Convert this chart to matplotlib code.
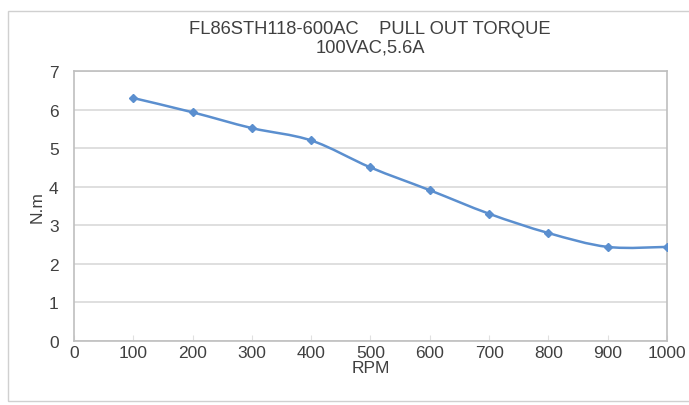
import numpy as np
import matplotlib.pyplot as plt
from matplotlib.path import Path
from matplotlib.patches import PathPatch, Rectangle

plt.rcParams['font.family'] = ['Liberation Sans', 'DejaVu Sans']

# data
rpm = [100, 200, 300, 400, 500, 600, 700, 800, 900, 1000]
torque = [6.3, 5.93, 5.52, 5.2, 4.5, 3.91, 3.3, 2.8, 2.44, 2.44]

title = 'FL86STH118-600AC    PULL OUT TORQUE\n100VAC,5.6A'
line_col = '#5B8FCF'
grid_col = '#D9D9D9'
txt_col = '#404040'

fig = plt.figure(figsize=(6.89, 4.06), dpi=100)
ax = fig.add_axes([0.1074, 0.1576, 0.8606, 0.665])

# excel-like smoothed line: cubic bezier segments through the points
x = np.array(rpm, float)
y = np.array(torque, float)
verts = [(x[0], y[0])]
codes = [Path.MOVETO]
n = len(x)
for i in range(n - 1):
    p0 = i - 1 if i > 0 else i
    p3 = i + 2 if i + 2 < n else i + 1
    c1 = (x[i] + (x[i + 1] - x[p0]) / 6, y[i] + (y[i + 1] - y[p0]) / 6)
    c2 = (x[i + 1] - (x[p3] - x[i]) / 6, y[i + 1] - (y[p3] - y[i]) / 6)
    verts += [c1, c2, (x[i + 1], y[i + 1])]
    codes += [Path.CURVE4] * 3
ax.add_patch(PathPatch(Path(verts, codes), fill=False, ec=line_col, lw=1.8, zorder=3))
ax.plot(rpm, torque, ls='none', marker='D', ms=4, color=line_col, zorder=4)

ax.set_xlim(0, 1000)
ax.set_ylim(0, 7)
ax.set_xticks(range(0, 1001, 100))
ax.set_yticks(range(0, 8))
ax.yaxis.grid(True, color=grid_col, lw=1.2)
ax.set_axisbelow(True)
for s in ax.spines.values():
    s.set_color('#BFBFBF')
    s.set_linewidth(1.2)
ax.tick_params(axis='y', length=0, labelsize=12.5, colors=txt_col, pad=11)
ax.tick_params(axis='x', length=4, direction='in', color='#E0E0E0', labelsize=12.5,
               labelcolor=txt_col, pad=3)

ax.set_xlabel('RPM', fontsize=12.5, color=txt_col, labelpad=0)
ax.set_ylabel('N.m', fontsize=12.5, color=txt_col, labelpad=3)
fig.text(0.537, 0.905, title, ha='center', va='center', fontsize=13.2, color=txt_col,
         linespacing=1.15)

fig.patches.append(Rectangle((0.011, 0.01), 1.2, 0.961, transform=fig.transFigure,
                             fill=False, ec='#D0D0D0', lw=1))

fig.savefig('out.png', dpi=100)
